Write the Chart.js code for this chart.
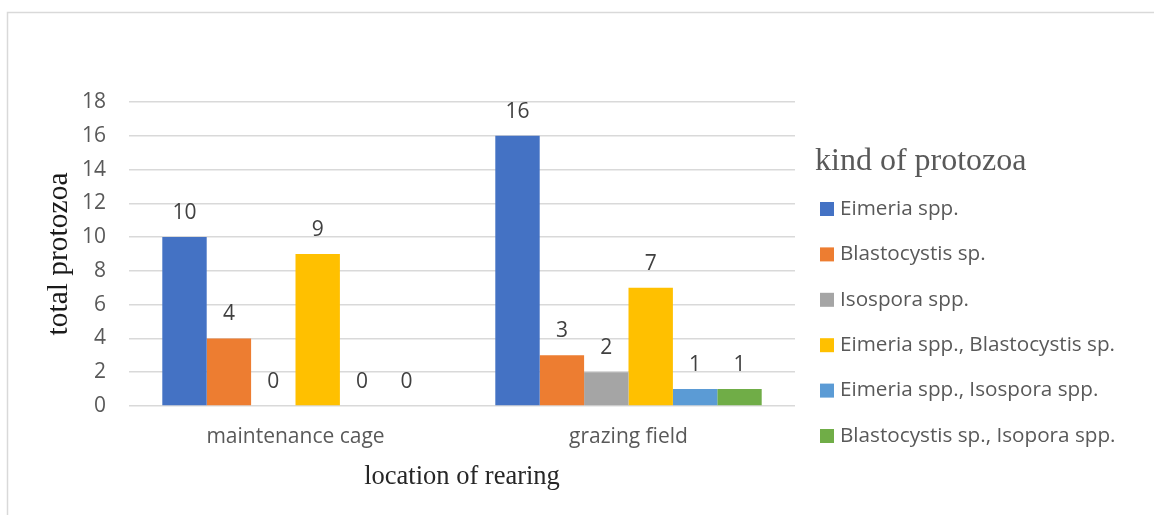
<!DOCTYPE html>
<html>
<head>
<meta charset="utf-8">
<script src="https://cdn.jsdelivr.net/npm/chart.js@4"></script>
<style>
  html, body { margin: 0; padding: 0; background: #ffffff; }
  #wrap { width: 1154px; height: 515px; position: relative; }
</style>
</head>
<body>
<div id="wrap"><canvas id="c" width="1154" height="515"></canvas></div>
<script>
const categories = ['maintenance cage', 'grazing field'];
const seriesNames = [
  'Eimeria spp.',
  'Blastocystis sp.',
  'Isospora spp.',
  'Eimeria spp., Blastocystis sp.',
  'Eimeria spp., Isospora spp.',
  'Blastocystis sp., Isopora spp.'
];
const eimeria = [10, 16];
const blastocystis = [4, 3];
const isospora = [0, 2];
const eimeriaBlasto = [9, 7];
const eimeriaIso = [0, 1];
const blastoIso = [0, 1];
const seriesColors = ['#4472C4', '#ED7D31', '#A5A5A5', '#FFC000', '#5B9BD5', '#70AD47'];
const yTicks = [0, 2, 4, 6, 8, 10, 12, 14, 16, 18];
const yTitle = 'total protozoa';
const xTitle = 'location of rearing';
const legendTitle = 'kind of protozoa';

const seriesValues = [eimeria, blastocystis, isospora, eimeriaBlasto, eimeriaIso, blastoIso];

const SANS = '"Open Sans", "Noto Sans", sans-serif';
const SERIF = '"Liberation Serif", "Times New Roman", serif';

const frame = {
  id: 'frame',
  beforeDraw(chart) {
    const ctx = chart.ctx;
    ctx.save();
    ctx.strokeStyle = '#D9D9D9';
    ctx.lineWidth = 1.5;
    ctx.beginPath();
    ctx.moveTo(7.5, chart.height);
    ctx.lineTo(7.5, 12.5);
    ctx.lineTo(chart.width, 12.5);
    ctx.stroke();
    ctx.restore();
  }
};

const valueLabels = {
  id: 'valueLabels',
  afterDatasetsDraw(chart) {
    const ctx = chart.ctx;
    ctx.save();
    ctx.font = '21px ' + SANS;
    ctx.fillStyle = '#404040';
    ctx.textAlign = 'center';
    ctx.textBaseline = 'alphabetic';
    chart.data.datasets.forEach((ds, i) => {
      const meta = chart.getDatasetMeta(i);
      meta.data.forEach((bar, j) => {
        ctx.fillText(String(ds.data[j]), bar.x, bar.y - 18);
      });
    });
    ctx.restore();
  }
};

const sideLegend = {
  id: 'sideLegend',
  afterDraw(chart) {
    const ctx = chart.ctx;
    const x0 = chart.chartArea.right + 20;
    ctx.save();
    ctx.fillStyle = '#595959';
    ctx.font = '32px ' + SERIF;
    ctx.textAlign = 'left';
    ctx.textBaseline = 'alphabetic';
    ctx.fillText(legendTitle, x0, 170);
    ctx.font = '20.7px ' + SANS;
    ctx.textBaseline = 'middle';
    chart.data.datasets.forEach((ds, i) => {
      const cy = 209 + i * 45.4;
      ctx.fillStyle = ds.backgroundColor;
      ctx.fillRect(x0 + 5, cy - 7, 14, 14);
      ctx.fillStyle = '#595959';
      ctx.fillText(ds.label, x0 + 25, cy);
    });
    ctx.restore();
  }
};

new Chart(document.getElementById('c'), {
  type: 'bar',
  data: {
    labels: categories,
    datasets: seriesNames.map((name, i) => ({
      label: name,
      data: seriesValues[i],
      backgroundColor: seriesColors[i],
      borderWidth: 0,
      categoryPercentage: 0.8,
      barPercentage: 1.0
    }))
  },
  options: {
    responsive: false,
    animation: false,
    devicePixelRatio: 1,
    layout: { padding: { top: 102, right: 359, bottom: 0, left: 0 } },
    plugins: {
      legend: { display: false },
      tooltip: { enabled: false },
      title: { display: false }
    },
    scales: {
      x: {
        grid: { display: false, drawTicks: false },
        border: { display: false },
        ticks: { color: '#595959', font: { family: SANS, size: 21 }, padding: 18, maxRotation: 0 },
        title: { display: true, text: xTitle, color: '#262626', font: { family: SERIF, size: 26.5 }, padding: { top: 0, bottom: 22 } },
        afterFit(scale) { scale.height = 109; }
      },
      y: {
        min: 0,
        max: 18,
        afterBuildTicks(scale) { scale.ticks = yTicks.map(v => ({ value: v })); },
        grid: { color: '#D9D9D9', lineWidth: 1.5, drawTicks: false },
        border: { display: false },
        ticks: { color: '#595959', font: { family: SANS, size: 21 }, padding: 23 },
        title: { display: true, text: yTitle, color: '#1a1a1a', font: { family: SERIF, size: 29.5 }, padding: { top: 42, bottom: 0 } },
        afterFit(scale) { scale.width = 129; }
      }
    }
  },
  plugins: [frame, valueLabels, sideLegend]
});
</script>
</body>
</html>
